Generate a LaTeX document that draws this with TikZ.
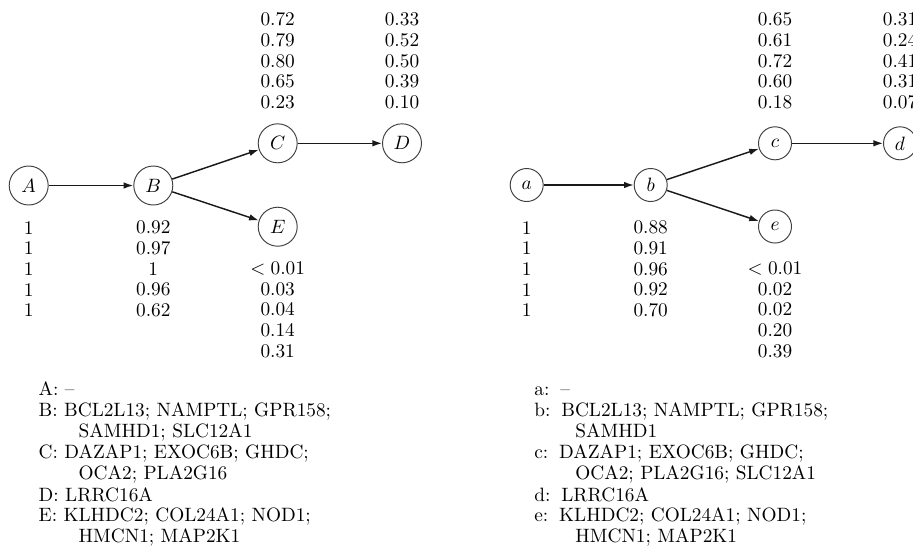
\documentclass[tikz,border=0pt]{standalone}
\usetikzlibrary{arrows.meta}
\begin{document}
\begin{tikzpicture}[x=0.518pt,y=-0.518pt,
  bigstate/.style={circle,draw=black!75,line width=0.5pt,minimum size=20.2pt,inner sep=0pt},
  smallstate/.style={circle,draw=black!75,line width=0.5pt,minimum size=17.1pt,inner sep=0pt},
  edge/.style={-{Latex[length=5pt,width=3.4pt]},line width=0.75pt,black!90},
  col/.style={align=center,font=\fontsize{10}{10.7}\selectfont,inner sep=0pt},
  leg/.style={anchor=base west,inner sep=0pt,font=\fontsize{10}{12}\selectfont}]
\useasboundingbox (0,0) rectangle (913,548);

% ---------- left graph ----------
\node[bigstate] (A) at (28.7,185.5) {$A$};
\node[bigstate] (B) at (153.3,185.5) {$B$};
\node[bigstate] (C) at (277.7,143.3) {$C$};
\node[bigstate] (D) at (402,143.3) {$D$};
\node[bigstate] (E) at (277.7,226.7) {$E$};
\draw[edge] (A) -- (B);
\draw[edge] (B) -- (C);
\draw[edge] (B) -- (E);
\draw[edge] (C) -- (D);

\node[col] (colA) at (28.7,269) {1\\1\\1\\1\\1};
\node[col] (colB) at (153.3,269) {0.92\\0.97\\1\\0.96\\0.62};
\node[col] (colC) at (277.7,60.9) {0.72\\0.79\\0.80\\0.65\\0.23};
\node[col] (colD) at (402,60.9) {0.33\\0.52\\0.50\\0.39\\0.10};
\node[col] (colE) at (277.7,309.7) {$<0.01$\\0.03\\0.04\\0.14\\0.31};

\node[leg] (lA) at (38.3,395.7) {A: --};
\node[leg] (lB) at (38.3,416.7) {B: BCL2L13; NAMPTL; GPR158;};
\node[leg] (lB2) at (78.3,437.7) {SAMHD1; SLC12A1};
\node[leg] (lC) at (38.3,458.3) {C: DAZAP1; EXOC6B; GHDC;};
\node[leg] (lC2) at (78.3,479.3) {OCA2; PLA2G16};
\node[leg] (lD) at (38.3,501.5) {D: LRRC16A};
\node[leg] (lE) at (38.3,521.7) {E: KLHDC2; COL24A1; NOD1;};
\node[leg] (lE2) at (78.3,542.6) {HMCN1; MAP2K1};

% ---------- right graph ----------
\node[smallstate] (a) at (526.7,185) {$a$};
\node[smallstate] (b) at (650.7,185) {$b$};
\node[smallstate] (c) at (775,143.3) {$c$};
\node[smallstate] (d) at (900,143.3) {$d$};
\node[smallstate] (e) at (775,226.5) {$e$};
\draw[edge] (a) -- (b);
\draw[edge] (b) -- (c);
\draw[edge] (b) -- (e);
\draw[edge] (c) -- (d);

\node[col] (cola) at (526.7,269) {1\\1\\1\\1\\1};
\node[col] (colb) at (650.7,269) {0.88\\0.91\\0.96\\0.92\\0.70};
\node[col] (colc) at (775,60.9) {0.65\\0.61\\0.72\\0.60\\0.18};
\node[col] (cold) at (900,60.9) {0.31\\0.24\\0.41\\0.31\\0.07};
\node[col] (cole) at (775,309.7) {$<0.01$\\0.02\\0.02\\0.20\\0.39};

\node[leg] (la) at (534,395.7) {a:\hspace{1.2pt} --};
\node[leg] (lb) at (534,416.7) {b:\hspace{1.2pt} BCL2L13; NAMPTL; GPR158;};
\node[leg] (lb2) at (575,437.5) {SAMHD1};
\node[leg] (lc) at (534,458.3) {c:\hspace{1.2pt} DAZAP1; EXOC6B; GHDC;};
\node[leg] (lc2) at (575,479.2) {OCA2; PLA2G16; SLC12A1};
\node[leg] (ld) at (534,501.3) {d:\hspace{1.2pt} LRRC16A};
\node[leg] (le) at (534,521.7) {e:\hspace{1.2pt} KLHDC2; COL24A1; NOD1;};
\node[leg] (le2) at (575,542.5) {HMCN1; MAP2K1};
\end{tikzpicture}
\end{document}
